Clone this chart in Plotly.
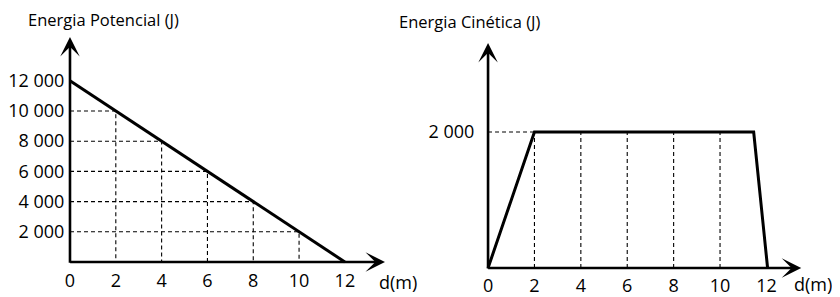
import plotly.graph_objects as go

# ---- data ----
pot_d = [0, 12]
pot_E = [12000, 0]
pot_guide_d = [2, 4, 6, 8, 10]
pot_guide_E = [10000, 8000, 6000, 4000, 2000]
pot_yticks = [2000, 4000, 6000, 8000, 10000, 12000]
pot_ytext = ["2 000", "4 000", "6 000", "8 000", "10 000", "12 000"]

kin_d = [0, 2, 11.45, 12.05]
kin_E = [0, 2000, 2000, 0]
kin_guide_d = [2, 4, 6, 8, 10]
kin_guide_E = [2000, 2000, 2000, 2000, 2000]
kin_yticks = [2000]
kin_ytext = ["2 000"]

d_ticks = [0, 2, 4, 6, 8, 10, 12]
d_text = [str(v) for v in d_ticks]

FONT = "Open Sans"
BLACK = "#000000"
DASH = "4px,3px"

W, H = 832, 289  # page body has an 8px margin

fig = go.Figure()

# left guides
gx, gy = [], []
for d, e in zip(pot_guide_d, pot_guide_E):
    gx += [0, d, d, None]
    gy += [e, e, 0, None]
fig.add_trace(go.Scatter(x=gx, y=gy, mode="lines", xaxis="x", yaxis="y",
                         line=dict(color=BLACK, width=1.1, dash=DASH), hoverinfo="skip"))
fig.add_trace(go.Scatter(x=pot_d, y=pot_E, mode="lines", xaxis="x", yaxis="y",
                         line=dict(color=BLACK, width=3)))

# right guides
hx, hy = [0, kin_guide_d[0], None], [kin_guide_E[0], kin_guide_E[0], None]
for d, e in zip(kin_guide_d, kin_guide_E):
    hx += [d, d, None]
    hy += [0, e, None]
fig.add_trace(go.Scatter(x=hx, y=hy, mode="lines", xaxis="x2", yaxis="y2",
                         line=dict(color=BLACK, width=1.1, dash=DASH), hoverinfo="skip"))
fig.add_trace(go.Scatter(x=kin_d, y=kin_E, mode="lines", xaxis="x2", yaxis="y2",
                         line=dict(color=BLACK, width=3)))

tickfont = dict(family=FONT, size=18, color=BLACK)
axis_common = dict(showgrid=False, zeroline=False, showline=False, ticks="",
                   tickfont=tickfont, fixedrange=True, automargin=False)

L_XR = [-0.2, 13.75]
L_YR = [-300, 14900]
R_XR = [-0.2, 13.5]
R_YR = [-60, 3310]

fig.update_layout(
    width=W, height=H,
    margin=dict(l=0, r=0, t=0, b=0),
    paper_bgcolor="white", plot_bgcolor="rgba(0,0,0,0)",
    showlegend=False,
    xaxis=dict(domain=[0.0690, 0.4531], range=L_XR, tickvals=d_ticks, ticktext=d_text,
               anchor="y", ticklabelstandoff=1, **axis_common),
    yaxis=dict(domain=[0.1055, 0.8997], range=L_YR, tickvals=pot_yticks, ticktext=pot_ytext,
               anchor="x", ticklabelstandoff=0, **axis_common),
    xaxis2=dict(domain=[0.5714, 0.9534], range=R_XR, tickvals=d_ticks, ticktext=d_text,
                anchor="y2", ticklabelstandoff=1, **axis_common),
    yaxis2=dict(domain=[0.0862, 0.8789], range=R_YR, tickvals=kin_yticks, ticktext=kin_ytext,
                anchor="x2", ticklabelstandoff=8, **axis_common),
)

arrow = dict(showarrow=True, text="", arrowhead=3, arrowwidth=2.6, arrowsize=1.25,
             arrowcolor=BLACK, standoff=0, startstandoff=0)
anns = [
    dict(x=L_XR[1], y=0, ax=-0.06, ay=0, xref="x", yref="y", axref="x", ayref="y", **arrow),
    dict(x=0, y=L_YR[1], ax=0, ay=-150, xref="x", yref="y", axref="x", ayref="y", **arrow),
    dict(x=R_XR[1], y=0, ax=-0.06, ay=0, xref="x2", yref="y2", axref="x2", ayref="y2", **arrow),
    dict(x=0, y=R_YR[1], ax=0, ay=-30, xref="x2", yref="y2", axref="x2", ayref="y2", **arrow),
]
labfont = dict(family=FONT, size=16.5, color=BLACK)
anns += [
    dict(text="Energia Potencial (J)", xref="paper", yref="paper", x=19/W, y=1-11/H,
         xanchor="left", yanchor="middle", showarrow=False, font=labfont, borderpad=0),
    dict(text="Energia Cinética (J)", xref="paper", yref="paper", x=390/W, y=1-13/H,
         xanchor="left", yanchor="middle", showarrow=False, font=labfont, borderpad=0),
    dict(text="d(m)", xref="paper", yref="paper", x=370/W, y=1-274/H,
         xanchor="left", yanchor="middle", showarrow=False, font=tickfont, borderpad=0),
    dict(text="d(m)", xref="paper", yref="paper", x=825/W, y=1-276/H,
         xanchor="right", yanchor="middle", showarrow=False, font=tickfont, borderpad=0),
]
fig.update_layout(annotations=anns)

fig.write_html("out.html")
